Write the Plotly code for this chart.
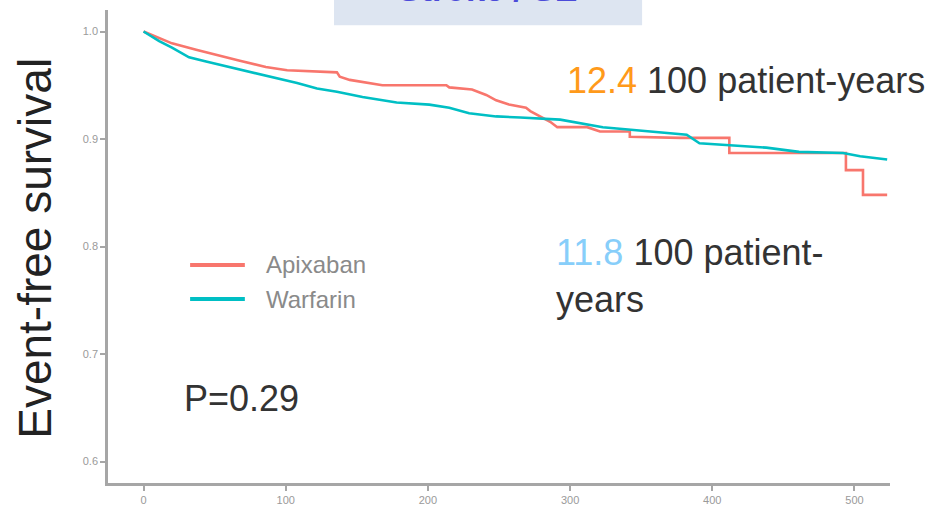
import plotly.graph_objects as go

# Kaplan-Meier style event-free survival, days of follow-up
series_names = ["Apixaban", "Warfarin"]
series_colors = ["#F8766D", "#00BFC4"]

apixaban_days = [0, 20, 37, 51, 67, 86, 101, 136, 138, 145, 168, 213, 215, 231, 241, 248,
                 257, 269, 272, 286, 291, 312, 321, 342, 342, 377, 412, 412, 433, 494, 494,
                 506, 506, 523]
apixaban_surv = [1.000, 0.989, 0.983, 0.978, 0.973, 0.967, 0.964, 0.962, 0.958, 0.955,
                 0.950, 0.950, 0.948, 0.946, 0.941, 0.936, 0.932, 0.929, 0.926, 0.916,
                 0.911, 0.911, 0.907, 0.907, 0.902, 0.901, 0.901, 0.887, 0.887, 0.887,
                 0.871, 0.871, 0.848, 0.848]

warfarin_days = [0, 11, 20, 32, 44, 60, 77, 91, 108, 122, 136, 154, 178, 201, 215, 229,
                 248, 265, 293, 323, 354, 382, 391, 414, 438, 461, 492, 504, 523]
warfarin_surv = [1.000, 0.991, 0.985, 0.976, 0.972, 0.967, 0.962, 0.958, 0.952, 0.947,
                 0.944, 0.939, 0.934, 0.932, 0.929, 0.924, 0.921, 0.920, 0.918, 0.911,
                 0.907, 0.904, 0.896, 0.894, 0.892, 0.888, 0.887, 0.884, 0.881]

x_ticks = [0, 100, 200, 300, 400, 500]
y_ticks = [0.6, 0.7, 0.8, 0.9, 1.0]
y_tick_labels = ["0.6", "0.7", "0.8", "0.9", "1.0"]

rate_apixaban = "12.4"
rate_warfarin = "11.8"
p_value_text = "P=0.29"
panel_title = "Stroke / SE"

FONT = "Liberation Sans, Arial, sans-serif"
AXIS_GREY = "#a6a6a6"

fig = go.Figure()
fig.add_trace(go.Scatter(x=apixaban_days, y=apixaban_surv, mode="lines",
                         name=series_names[0],
                         line=dict(color=series_colors[0], width=2.6)))
fig.add_trace(go.Scatter(x=warfarin_days, y=warfarin_surv, mode="lines",
                         name=series_names[1],
                         line=dict(color=series_colors[1], width=2.6)))

fig.update_layout(
    width=938, height=506,
    margin=dict(l=108, r=48, t=10, b=23, autoexpand=False),
    paper_bgcolor="white", plot_bgcolor="white",
    showlegend=False,
    font=dict(family=FONT),
)
fig.update_xaxes(range=[-25, 525], tickvals=x_ticks, showgrid=False, zeroline=False,
                 automargin=False,
                 showline=True, linecolor=AXIS_GREY, linewidth=2.5,
                 ticks="outside", ticklen=5, tickwidth=1.5, tickcolor=AXIS_GREY,
                 tickfont=dict(size=11, color="#9a9a9a", family=FONT))
fig.update_yaxes(range=[0.58, 1.02], tickvals=y_ticks, ticktext=y_tick_labels,
                 showgrid=False, zeroline=False, automargin=False,
                 showline=True, linecolor=AXIS_GREY, linewidth=2.5,
                 ticks="outside", ticklen=5, tickwidth=1.5, tickcolor=AXIS_GREY,
                 tickfont=dict(size=11, color="#9a9a9a", family=FONT))

# Hand-drawn legend with long key lines
legend_y = [0.461, 0.389]
for name, color, ly in zip(series_names, series_colors, legend_y):
    fig.add_shape(type="line", xref="paper", yref="paper",
                  x0=0.105, x1=0.175, y0=ly, y1=ly,
                  line=dict(color=color, width=4))
    fig.add_annotation(xref="paper", yref="paper", x=0.200, y=ly,
                       xanchor="left", yanchor="middle", showarrow=False,
                       text=name, font=dict(size=24, color="#8a8a8a", family=FONT))

# Event rates per 100 patient-years
fig.add_annotation(xref="paper", yref="paper", x=0.584, y=0.852,
                   xanchor="left", yanchor="middle", showarrow=False, align="left",
                   text=f"<span style='color:#FF9A1A'>{rate_apixaban}</span> 100 patient-years",
                   font=dict(size=36, color="#333333", family=FONT))
fig.add_annotation(xref="paper", yref="paper", x=0.570, y=0.437,
                   xanchor="left", yanchor="middle", showarrow=False, align="left",
                   text=f"<span style='color:#87CEFA'>{rate_warfarin}</span> 100 patient-<br>years",
                   font=dict(size=36, color="#333333", family=FONT))

# Log-rank p-value
fig.add_annotation(xref="paper", yref="paper", x=0.094, y=0.178,
                   xanchor="left", yanchor="middle", showarrow=False,
                   text=p_value_text, font=dict(size=36, color="#333333", family=FONT))

# Y-axis title
fig.add_annotation(xref="paper", yref="paper", x=-0.0935, y=0.497,
                   xanchor="center", yanchor="middle", showarrow=False, textangle=-90,
                   text="Event-free survival", font=dict(size=46, color="#222222", family=FONT))

# Panel title strip along the top edge
fig.add_shape(type="rect", xref="paper", yref="paper",
              x0=0.289, x1=0.683, y0=0.968, y1=1.10,
              fillcolor="#dde5f1", line=dict(width=0), layer="above")
fig.add_annotation(xref="paper", yref="paper", x=0.486, y=1.045,
                   xanchor="center", yanchor="middle", showarrow=False,
                   text=f"<b>{panel_title}</b>",
                   font=dict(size=34, color="#4b4bd9", family=FONT))

fig.write_html("out.html")
